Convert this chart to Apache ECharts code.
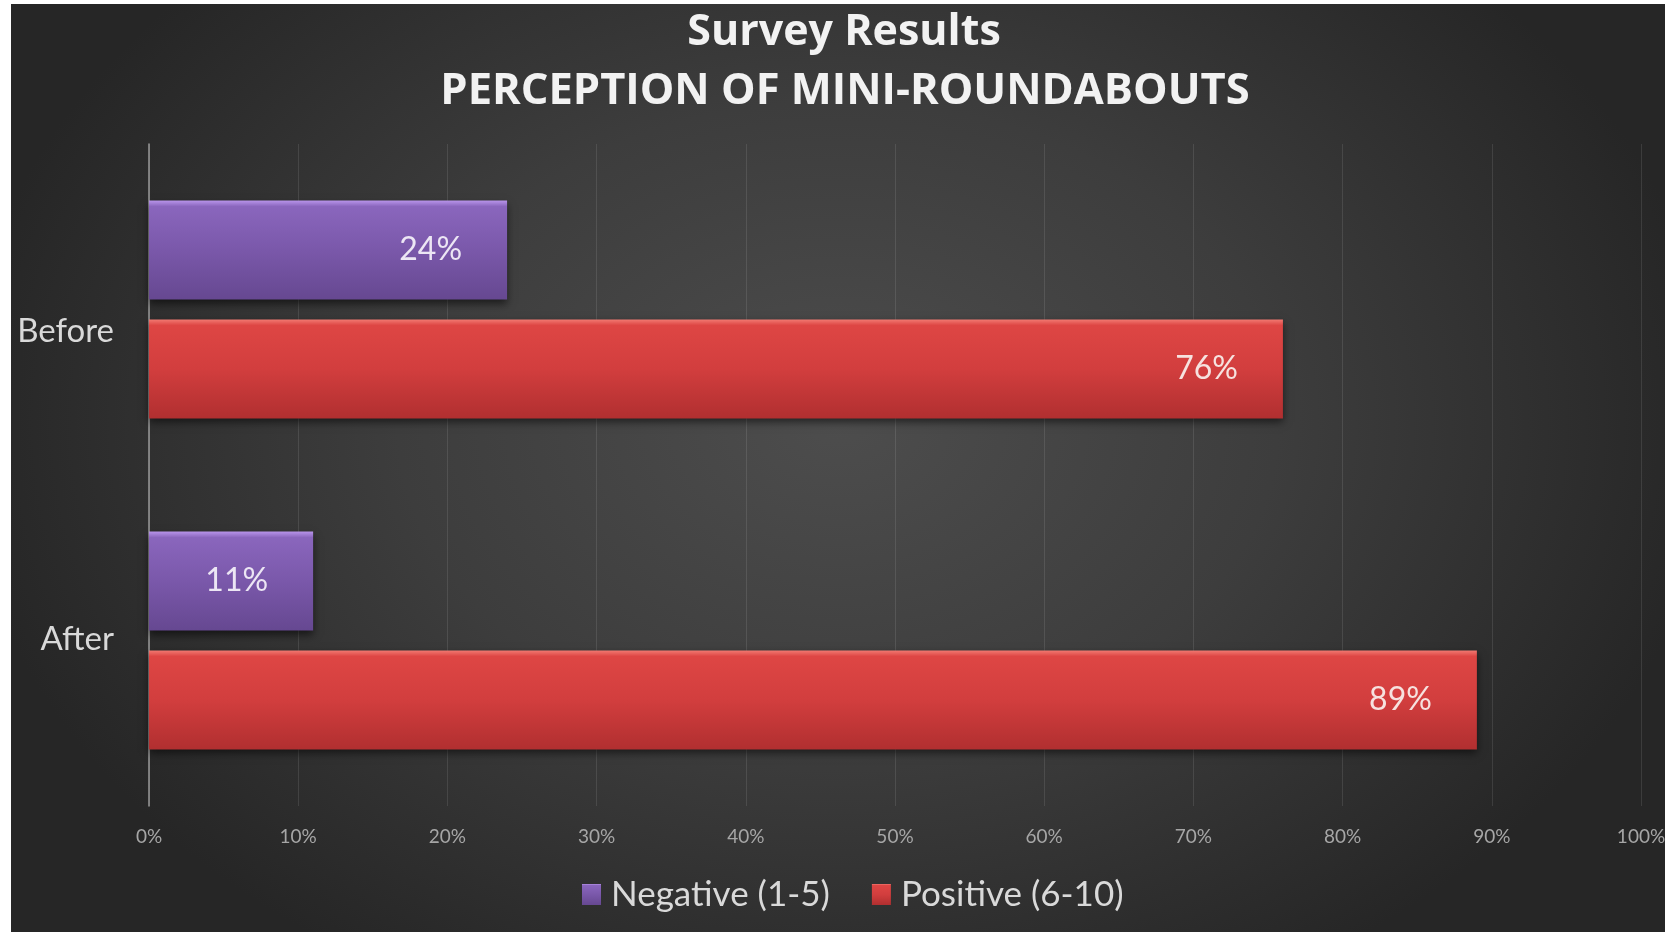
<!DOCTYPE html>
<html>
<head>
<meta charset="utf-8">
<script src="https://cdn.jsdelivr.net/npm/echarts@6/dist/echarts.min.js"></script>
<style>
  html, body { margin: 0; padding: 0; background: #ffffff; width: 1665px; height: 932px; overflow: hidden; }
  #chart {
    position: absolute; left: 11px; top: 4px; width: 1654px; height: 928px;
    background: radial-gradient(ellipse 880px 640px at 50% 45%, #4d4d4d 0%, #3d3d3d 50%, #262626 100%);
  }
</style>
</head>
<body>
<div id="chart"></div>
<script>
const titleMain = 'Survey Results';
const titleSub = 'PERCEPTION OF MINI-ROUNDABOUTS';
const categories = ['Before', 'After'];
const seriesNames = ['Negative (1-5)', 'Positive (6-10)'];
const negativeValues = [24, 11];
const positiveValues = [76, 89];
const axisMin = 0, axisMax = 100, axisStep = 10;

const chart = echarts.init(document.getElementById('chart'), null, { renderer: 'canvas' });

const purpleGrad = new echarts.graphic.LinearGradient(0, 0, 0, 1, [
  { offset: 0, color: '#b894ea' },
  { offset: 0.06, color: '#8a66bd' },
  { offset: 0.5, color: '#7a58aa' },
  { offset: 1, color: '#664891' }
]);
const redGrad = new echarts.graphic.LinearGradient(0, 0, 0, 1, [
  { offset: 0, color: '#f27a72' },
  { offset: 0.06, color: '#de4644' },
  { offset: 0.5, color: '#d23e3e' },
  { offset: 1, color: '#b12f30' }
]);

const labelCommon = {
  show: true,
  position: 'insideRight',
  distance: 45,
  fontFamily: 'Lato',
  fontSize: 32,
  formatter: '{c}%'
};

chart.setOption({
  backgroundColor: 'transparent',
  animation: false,
  textStyle: { fontFamily: 'Lato' },
  graphic: [
    { type: 'text', x: 833, y: 29, style: { text: titleMain, fill: '#f2f2f2', font: 'bold 43px "Open Sans"', align: 'center', verticalAlign: 'middle' } },
    { type: 'text', x: 834, y: 88, style: { text: titleSub, fill: '#f2f2f2', font: 'bold 43.5px "Open Sans"', align: 'center', verticalAlign: 'middle' } }
  ],
  legend: {
    data: seriesNames,
    left: 566,
    top: 868,
    itemWidth: 19,
    itemHeight: 21,
    itemGap: 42,
    icon: 'rect',
    textStyle: { color: '#d9d9d9', fontSize: 35, fontFamily: 'Lato', padding: [0, 0, 0, 5] }
  },
  grid: { left: 138, right: 24, top: 140, bottom: 126, containLabel: false, outerBoundsMode: 'none' },
  xAxis: {
    type: 'value',
    min: axisMin, max: axisMax, interval: axisStep,
    axisLine: { show: false },
    axisTick: { show: false },
    axisLabel: { formatter: '{value}%', color: '#a6a6a6', fontSize: 19, margin: 21, fontFamily: 'Lato' },
    splitLine: { show: true, lineStyle: { color: 'rgba(255,255,255,0.10)', width: 1 } }
  },
  yAxis: {
    type: 'category',
    data: categories,
    inverse: true,
    axisLine: { show: true, lineStyle: { color: '#9a9a9a', width: 1.5 } },
    axisTick: { show: false },
    axisLabel: {
      color: '#d9d9d9', fontSize: 33, margin: 35, fontFamily: 'Lato',
      formatter: function (v, i) { return i === 0 ? '{lo|' + v + '}' : '{hi|' + v + '}'; },
      rich: {
        lo: { color: '#d9d9d9', fontSize: 33, fontFamily: 'Lato', padding: [44, 0, 0, 0] },
        hi: { color: '#d9d9d9', fontSize: 33, fontFamily: 'Lato', padding: [0, 0, 3, 0] }
      }
    }
  },
  series: [
    {
      name: seriesNames[0], type: 'bar', data: negativeValues,
      barWidth: 99, barGap: '20%',
      itemStyle: { color: purpleGrad, shadowColor: 'rgba(0,0,0,0.55)', shadowBlur: 8, shadowOffsetY: 4 },
      label: Object.assign({ color: '#ece6f4' }, labelCommon)
    },
    {
      name: seriesNames[1], type: 'bar', data: positiveValues,
      barWidth: 99, barGap: '20%',
      itemStyle: { color: redGrad, shadowColor: 'rgba(0,0,0,0.55)', shadowBlur: 8, shadowOffsetY: 4 },
      label: Object.assign({ color: '#f6e2df' }, labelCommon)
    }
  ]
});
</script>
</body>
</html>
